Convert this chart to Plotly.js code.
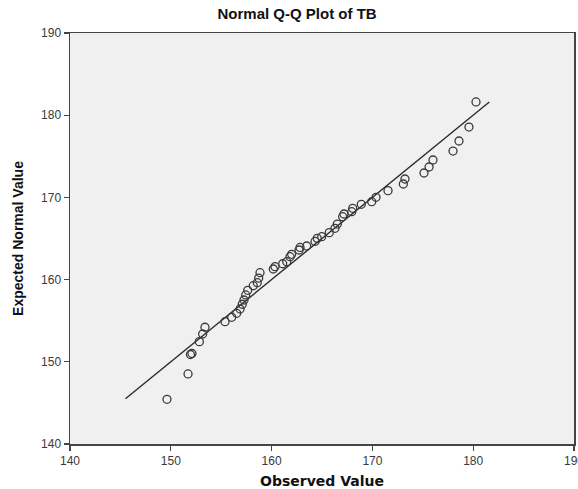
<!DOCTYPE html>
<html>
<head>
<meta charset="utf-8">
<script src="https://cdn.plot.ly/plotly-3.0.1.min.js"></script>
<style>html,body{margin:0;padding:0;background:#fff;}#chart{width:578px;height:489px;}</style>
</head>
<body>
<div id="chart"></div>
<script>
const observed = [149.62,151.71,151.95,152.10,152.83,153.16,153.39,155.38,156.04,156.54,156.87,157.09,157.26,157.43,157.63,158.18,158.58,158.72,158.85,160.17,160.34,161.10,161.50,161.83,161.99,162.72,162.82,163.48,164.31,164.53,164.97,165.72,166.29,166.52,167.05,167.18,167.95,168.05,168.90,169.93,170.36,171.55,173.07,173.23,175.12,175.62,176.01,178.00,178.59,179.58,180.28];
const expected = [145.44,148.52,150.89,151.01,152.45,153.38,154.20,154.88,155.41,155.90,156.42,157.00,157.52,158.13,158.70,159.26,159.62,160.19,160.84,161.29,161.57,161.93,162.18,162.79,163.08,163.60,163.91,164.09,164.64,165.02,165.22,165.71,166.24,166.76,167.65,167.98,168.26,168.67,169.16,169.48,170.01,170.82,171.63,172.24,172.97,173.70,174.55,175.64,176.86,178.56,181.61];
const lineX = [145.5, 181.6];
const lineY = [145.5, 181.6];
const tickVals = [140,150,160,170,180,190];

const traces = [
  {x: lineX, y: lineY, type: 'scatter', mode: 'lines', line: {color: '#2a2a2a', width: 1.4}, hoverinfo: 'skip'},
  {x: observed, y: expected, type: 'scatter', mode: 'markers',
   marker: {symbol: 'circle-open', size: 8, color: '#3a3a3a', line: {width: 1.3, color: '#3a3a3a'}}}
];

const axisCommon = {
  showgrid: false, zeroline: false, showline: true, mirror: true,
  linecolor: '#444', linewidth: 1.5, ticks: 'outside', ticklen: 5, tickwidth: 1.3, tickcolor: '#444',
  tickfont: {family: 'Liberation Sans, Arial, sans-serif', size: 12, color: '#3a3a3a'},
  tickvals: tickVals, ticklabeloverflow: 'allow'
};

const layout = {
  width: 578, height: 489,
  margin: {l: 70, r: 4, t: 33, b: 45},
  paper_bgcolor: '#ffffff', plot_bgcolor: '#f0f0f0',
  showlegend: false,
  title: {text: 'Normal Q-Q Plot of TB', x: 0.514, xref: 'container', xanchor: 'center', y: 0.972, yref: 'container', yanchor: 'middle',
          font: {family: 'Liberation Sans, Arial, sans-serif', size: 15, color: '#111', weight: 'bold'}},
  xaxis: Object.assign({}, axisCommon, {range: [139.999, 190.001],
    title: {text: 'Observed Value', standoff: 12, font: {family: 'DejaVu Sans, Verdana, sans-serif', size: 14, color: '#111', weight: 'bold'}}}),
  yaxis: Object.assign({}, axisCommon, {range: [139.999, 190.001],
    title: {text: 'Expected Normal Value', standoff: 14, font: {family: 'Liberation Sans, Arial, sans-serif', size: 14, color: '#111', weight: 'bold'}}})
};

Plotly.newPlot('chart', traces, layout, {displayModeBar: false, staticPlot: true});
</script>
</body>
</html>
